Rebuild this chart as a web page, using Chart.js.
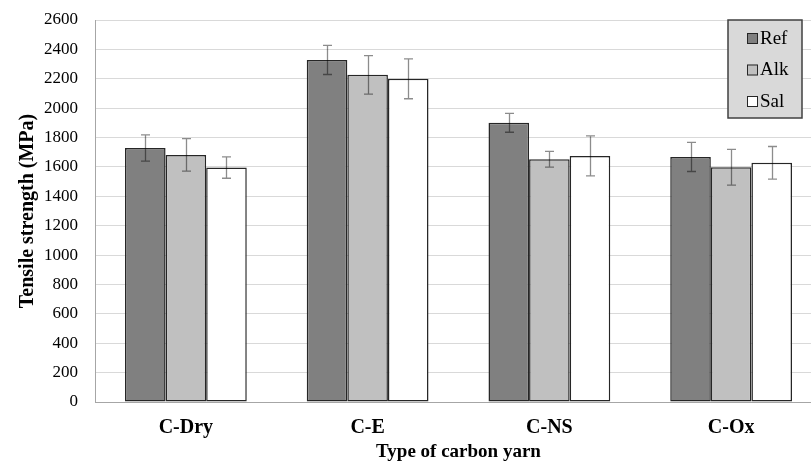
<!DOCTYPE html>
<html>
<head>
<meta charset="utf-8">
<script src="https://cdn.jsdelivr.net/npm/chart.js@4"></script>
<style>
  body { margin: 0; background: #fff; overflow: hidden; }
  #wrap { width: 811px; height: 464px; overflow: hidden; }
</style>
</head>
<body>
<div id="wrap"><canvas id="chart" width="824" height="464"></canvas></div>
<script>
// data
const categories = ['C-Dry', 'C-E', 'C-NS', 'C-Ox'];
const seriesNames = ['Ref', 'Alk', 'Sal'];
const refValues = [1729, 2328, 1900, 1668];
const alkValues = [1682, 2227, 1652, 1598];
const salValues = [1596, 2200, 1675, 1628];
const refErr = [89, 99, 64, 99];
const alkErr = [111, 131, 54, 122];
const salErr = [73, 136, 136, 111];
const yTicks = [0, 200, 400, 600, 800, 1000, 1200, 1400, 1600, 1800, 2000, 2200, 2400, 2600];

const serif = "'Liberation Serif', 'Times New Roman', serif";

// error bars drawn through the y scale
const errorBars = {
  id: 'errorBars',
  afterDatasetsDraw(chart) {
    const ctx = chart.ctx;
    const y = chart.scales.y;
    ctx.save();
    ctx.strokeStyle = 'rgba(0,0,0,0.45)';
    ctx.lineWidth = 1.3;
    chart.data.datasets.forEach((ds, i) => {
      const meta = chart.getDatasetMeta(i);
      meta.data.forEach((bar, j) => {
        const v = ds.data[j], e = ds.errors[j];
        const top = y.getPixelForValue(v + e);
        const bot = y.getPixelForValue(v - e);
        const x = Math.round(bar.x) + 0.5;
        ctx.beginPath();
        ctx.moveTo(x, top); ctx.lineTo(x, bot);
        ctx.moveTo(x - 4.5, top); ctx.lineTo(x + 4.5, top);
        ctx.moveTo(x - 4.5, bot); ctx.lineTo(x + 4.5, bot);
        ctx.stroke();
      });
    });
    ctx.restore();
  }
};

// boxed legend like the excel one
const boxLegend = {
  id: 'boxLegend',
  afterDraw(chart) {
    const ctx = chart.ctx;
    const bx = 728, by = 20, bw = 74, bh = 98;
    ctx.save();
    ctx.fillStyle = '#d9d9d9';
    ctx.fillRect(bx, by, bw, bh);
    ctx.strokeStyle = '#404040';
    ctx.lineWidth = 1.5;
    ctx.strokeRect(bx, by, bw, bh);
    ctx.font = '19px ' + serif;
    ctx.textBaseline = 'middle';
    chart.data.datasets.forEach((ds, i) => {
      const cy = 38 + i * 31.5;
      ctx.fillStyle = ds.backgroundColor;
      ctx.fillRect(747, cy - 5, 11, 11);
      ctx.strokeStyle = '#262626';
      ctx.lineWidth = 1;
      ctx.strokeRect(747.5, cy - 4.5, 10, 10);
      ctx.fillStyle = '#000';
      ctx.fillText(ds.label, 760, cy + 1);
    });
    ctx.restore();
  }
};

const makeSet = (label, data, errors, color) => ({
  label: label,
  data: data,
  errors: errors,
  backgroundColor: color,
  borderColor: '#262626',
  borderWidth: 1.5,
  borderSkipped: false,
  categoryPercentage: 0.67,
  barPercentage: 1.0
});

new Chart(document.getElementById('chart'), {
  type: 'bar',
  data: {
    labels: categories,
    datasets: [
      makeSet(seriesNames[0], refValues, refErr, '#808080'),
      makeSet(seriesNames[1], alkValues, alkErr, '#c0c0c0'),
      makeSet(seriesNames[2], salValues, salErr, '#ffffff')
    ]
  },
  options: {
    responsive: false,
    animation: false,
    layout: { autoPadding: false, padding: { top: 20, right: 2, bottom: 0, left: 0 } },
    plugins: { legend: { display: false }, tooltip: { enabled: false } },
    scales: {
      x: {
        grid: { display: false },
        border: { color: '#a6a6a6', width: 1 },
        ticks: { color: '#000', padding: 6, font: { family: serif, size: 20, weight: 'bold' } },
        title: {
          display: true, text: 'Type of carbon yarn', color: '#000',
          font: { family: serif, size: 19, weight: 'bold' }, padding: { top: 0, bottom: 1 }
        },
        afterFit(s) { s.height = 62; }
      },
      y: {
        min: 0, max: 2600,
        afterBuildTicks(s) { s.ticks = yTicks.map(v => ({ value: v })); },
        grid: { color: '#d9d9d9', drawTicks: false },
        border: { color: '#a6a6a6', width: 1 },
        ticks: {
          color: '#000', padding: 17, font: { family: serif, size: 17 },
          callback: v => String(v)
        },
        title: {
          display: true, text: 'Tensile strength (MPa)', color: '#000',
          font: { family: serif, size: 20, weight: 'bold' }, padding: { top: 16, bottom: 0 }
        },
        afterFit(s) {
          s.width = 95;
          // stop the scale from pushing the plot top down
          s.paddingTop = 0;
          s.paddingBottom = 0;
        }
      }
    }
  },
  plugins: [errorBars, boxLegend]
});
</script>
</body>
</html>
